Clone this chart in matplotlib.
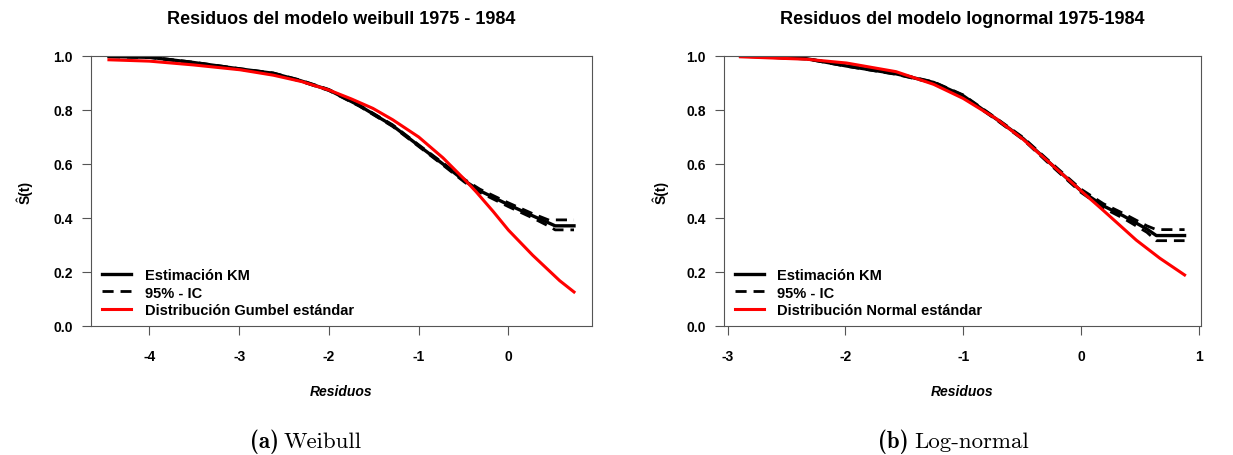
import matplotlib
matplotlib.use("Agg")
import matplotlib.pyplot as plt

plt.rcParams['font.family'] = ['Liberation Sans', 'DejaVu Sans']
plt.rcParams['axes.unicode_minus'] = False

# Weibull model residuals (panel a)
weib_x = [-4.45, -3.99, -3.51, -2.99, -2.62, -2.32, -2.00, -1.66, -1.29, -1.00,
          -0.73, -0.49, -0.32, 0.00, 0.27, 0.46, 0.52, 0.73]
weib_km = [0.998, 0.995, 0.976, 0.952, 0.936, 0.909, 0.874, 0.816, 0.742, 0.668,
           0.600, 0.538, 0.501, 0.449, 0.408, 0.380, 0.371, 0.371]
weib_up = [0.999, 0.996, 0.977, 0.953, 0.937, 0.911, 0.876, 0.818, 0.745, 0.671,
           0.604, 0.543, 0.507, 0.456, 0.416, 0.391, 0.393, 0.393]
weib_lo = [0.997, 0.994, 0.975, 0.951, 0.935, 0.907, 0.872, 0.814, 0.739, 0.665,
           0.596, 0.533, 0.495, 0.442, 0.400, 0.368, 0.356, 0.356]
gumbel_x = [-4.45, -4.00, -3.51, -2.99, -2.62, -2.30, -2.00, -1.75, -1.51, -1.29,
            -1.00, -0.73, -0.49, -0.36, -0.17, 0.00, 0.27, 0.57, 0.73]
gumbel_y = [0.986, 0.981, 0.967, 0.949, 0.929, 0.905, 0.874, 0.841, 0.806, 0.764,
            0.700, 0.623, 0.543, 0.497, 0.424, 0.355, 0.262, 0.168, 0.126]

# Log-normal model residuals (panel b)
ln_x = [-2.89, -2.33, -1.99, -1.57, -1.25, -1.00, -0.72, -0.49, -0.29, 0.00,
        0.19, 0.36, 0.56, 0.64, 0.88]
ln_km = [1.000, 0.990, 0.963, 0.934, 0.902, 0.853, 0.767, 0.694, 0.614, 0.501,
         0.445, 0.408, 0.359, 0.335, 0.335]
ln_up = [1.000, 0.991, 0.964, 0.936, 0.904, 0.856, 0.770, 0.698, 0.619, 0.507,
         0.453, 0.417, 0.371, 0.357, 0.357]
ln_lo = [1.000, 0.989, 0.962, 0.932, 0.900, 0.850, 0.764, 0.690, 0.609, 0.495,
         0.437, 0.399, 0.347, 0.316, 0.316]
normal_x = [-2.89, -2.33, -1.99, -1.57, -1.25, -1.00, -0.72, -0.49, -0.29, 0.00,
            0.19, 0.47, 0.67, 0.88]
normal_y = [0.997, 0.988, 0.974, 0.942, 0.895, 0.843, 0.768, 0.691, 0.614, 0.501,
            0.428, 0.318, 0.251, 0.189]

yticks = [0.0, 0.2, 0.4, 0.6, 0.8, 1.0]

panels = [
    dict(pos=[0.0738, 0.2829, 0.4063, 0.5921], xlim=(-4.65, 0.93), xticks=[-4, -3, -2, -1, 0],
         x=weib_x, km=weib_km, up=weib_up, lo=weib_lo, tx=gumbel_x, ty=gumbel_y,
         title="Residuos del modelo weibull 1975 - 1984", dist="Distribución Gumbel estándar"),
    dict(pos=[0.5872, 0.2829, 0.3869, 0.5921], xlim=(-3.03, 1.02), xticks=[-3, -2, -1, 0, 1],
         x=ln_x, km=ln_km, up=ln_up, lo=ln_lo, tx=normal_x, ty=normal_y,
         title="Residuos del modelo lognormal 1975-1984", dist="Distribución Normal estándar"),
]

fig = plt.figure(figsize=(12.33, 4.56), dpi=100)
edge = '#555555'

for p in panels:
    ax = fig.add_axes(p['pos'])
    ax.plot(p['x'], p['up'], color='black', lw=2.0, dashes=(4, 2.5), label='95% - IC')
    ax.plot(p['x'], p['lo'], color='black', lw=2.0, dashes=(4, 2.5))
    ax.plot(p['x'], p['km'], color='black', lw=2.4, label='Estimación KM')
    ax.plot(p['tx'], p['ty'], color='red', lw=2.2, label=p['dist'])
    ax.set_xlim(*p['xlim'])
    ax.set_ylim(0, 1)
    ax.set_xticks(p['xticks'])
    ax.set_yticks(yticks)
    ax.set_yticklabels([f"{v:.1f}" for v in yticks])
    ax.tick_params(direction='out', length=6.5, width=0.8, color=edge, labelsize=10)
    ax.tick_params(axis='x', pad=10)
    ax.tick_params(axis='y', pad=6.5)
    for lab in ax.get_xticklabels() + ax.get_yticklabels():
        lab.set_fontweight('bold')
    for s in ax.spines.values():
        s.set_color(edge)
        s.set_linewidth(0.8)
    ax.set_title(p['title'], fontsize=13, fontweight='bold', pad=24)
    ax.set_xlabel('Residuos', fontsize=10, fontweight='bold', fontstyle='italic')
    ax.xaxis.set_label_coords(0.5, -0.215)
    ax.set_ylabel('Ŝ(t)', fontsize=10, fontweight='bold')
    ax.yaxis.set_label_coords(-0.116, 0.5)
    h, l = ax.get_legend_handles_labels()
    order = [1, 0, 2]
    ax.legend([h[i] for i in order], [l[i] for i in order],
              loc='lower left', frameon=False, prop={'weight': 'bold', 'size': 10.5},
              handlelength=2.0, handletextpad=0.9, labelspacing=0.25,
              borderaxespad=0.2, bbox_to_anchor=(0.005, 0.0))

cy = 1 - 442 / 456
fig.text(279 / 1233, cy, '(a)', fontfamily='cmb10', fontsize=16.5, ha='right', va='center')
fig.text(284 / 1233, cy, 'Weibull', fontfamily='cmr10', fontsize=16.5, ha='left', va='center')
fig.text(909 / 1233, cy, '(b)', fontfamily='cmb10', fontsize=16.5, ha='right', va='center')
fig.text(914 / 1233, cy, 'Log-normal', fontfamily='cmr10', fontsize=16.5, ha='left', va='center')

fig.savefig('out.png', dpi=100)
